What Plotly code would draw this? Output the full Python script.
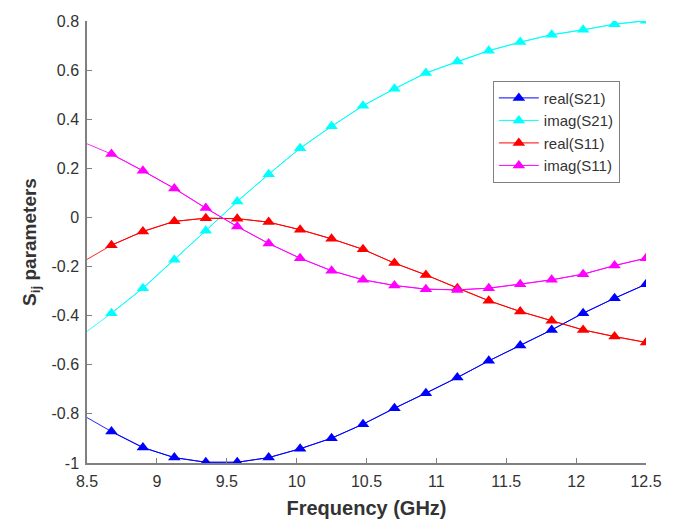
import plotly.graph_objects as go

# Frequency points (GHz): line starts at 8.5, markers at the remaining points
freq = [8.5, 8.675, 8.9, 9.125, 9.35, 9.575, 9.8, 10.025, 10.25, 10.475,
        10.7, 10.925, 11.15, 11.375, 11.6, 11.825, 12.05, 12.275, 12.5]

real_s21 = [-0.815, -0.872, -0.937, -0.978, -0.997, -0.997, -0.978, -0.942, -0.899, -0.842,
            -0.777, -0.716, -0.652, -0.584, -0.521, -0.458, -0.390, -0.329, -0.272]
imag_s21 = [-0.464, -0.390, -0.288, -0.172, -0.054, 0.065, 0.176, 0.282, 0.371, 0.455,
            0.524, 0.588, 0.635, 0.679, 0.714, 0.744, 0.764, 0.787, 0.801]
real_s11 = [-0.171, -0.113, -0.057, -0.016, -0.003, -0.005, -0.019, -0.050, -0.087, -0.130,
            -0.186, -0.234, -0.288, -0.339, -0.383, -0.421, -0.458, -0.485, -0.509]
imag_s11 = [0.300, 0.258, 0.190, 0.118, 0.038, -0.037, -0.106, -0.166, -0.217, -0.254,
            -0.277, -0.292, -0.295, -0.288, -0.272, -0.254, -0.231, -0.196, -0.166]

series_names = ["real(S21)", "imag(S21)", "real(S11)", "imag(S11)"]
series_vals = [real_s21, imag_s21, real_s11, imag_s11]
series_colors = ["#0000FF", "#00FFFF", "#FF0000", "#FF00FF"]

x_tickvals = [8.5, 9, 9.5, 10, 10.5, 11, 11.5, 12, 12.5]
x_ticktext = ["8.5", "9", "9.5", "10", "10.5", "11", "11.5", "12", "12.5"]
y_tickvals = [0.8, 0.6, 0.4, 0.2, 0, -0.2, -0.4, -0.6, -0.8, -1]
y_ticktext = ["0.8", "0.6", "0.4", "0.2", "0", "-0.2", "-0.4", "-0.6", "-0.8", "-1"]

FONT = "Liberation Sans, Arial, Helvetica"

fig = go.Figure()
for name, vals, col in zip(series_names, series_vals, series_colors):
    # full line including the unmarked start point
    fig.add_trace(go.Scatter(x=freq, y=vals, mode="lines",
                             line=dict(color=col, width=1),
                             opacity=0.85,
                             showlegend=False, legendgroup=name, hoverinfo="skip"))
    # marked points
    fig.add_trace(go.Scatter(x=freq[1:], y=vals[1:], mode="lines+markers", name=name,
                             legendgroup=name,
                             line=dict(color=col, width=1),
                             marker=dict(symbol="triangle-up", size=11, color=col,
                                         line=dict(width=0))))

axis_common = dict(showgrid=False, zeroline=False, showline=True,
                   linecolor="#808080", linewidth=1.5,
                   ticks="inside", ticklen=5, tickcolor="#808080", tickwidth=1.2,
                   tickfont=dict(family=FONT, size=16, color="#333333"),
                   mirror=False, automargin=False)

fig.update_layout(
    width=680, height=520,
    margin=dict(l=87, r=34, t=21, b=57),
    paper_bgcolor="white", plot_bgcolor="white",
    xaxis=dict(range=[8.5, 12.5], tickvals=x_tickvals, ticktext=x_ticktext,
               ticklabelstandoff=3,
               title=dict(text="<b>Frequency (GHz)</b>", standoff=12,
                          font=dict(family=FONT, size=20, color="#333333")),
               **axis_common),
    yaxis=dict(range=[-1, 0.8], tickvals=y_tickvals, ticktext=y_ticktext,
               ticklabelstandoff=3,
               title=dict(text="<b>S<sub>ij</sub> parameters</b>", standoff=10,
                          font=dict(family=FONT, size=19, color="#333333")),
               **axis_common),
    legend=dict(x=0.726, y=0.865, xanchor="left", yanchor="top",
                bgcolor="white", bordercolor="#808080", borderwidth=1,
                font=dict(family=FONT, size=15, color="#333333"),
                tracegroupgap=0, itemwidth=40),
)

fig.write_html("out.html")
